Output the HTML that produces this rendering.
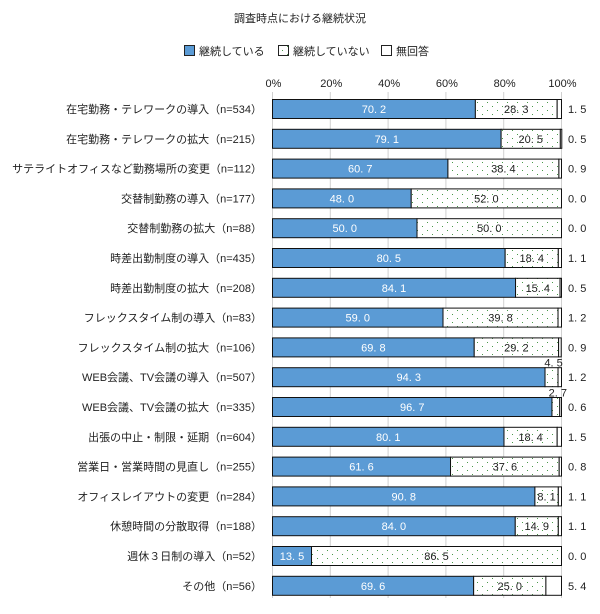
<!DOCTYPE html>
<html><head><meta charset="utf-8"><style>
body{margin:0;background:#fff;}
svg text{font-family:"Liberation Sans","Noto Sans CJK JP",sans-serif;font-size:11px;fill:#222;}
</style></head><body>
<svg id="chart" width="600" height="609" xmlns="http://www.w3.org/2000/svg">
<defs><pattern id="dots" width="10" height="8" patternUnits="userSpaceOnUse"><rect width="10" height="8" fill="#fff"/><rect x="2" y="2" width="1" height="1" fill="#4a9a4a"/><rect x="7" y="6" width="1" height="1" fill="#4a9a4a"/></pattern></defs>
<text x="300" y="22" text-anchor="middle">調査時点における継続状況</text>
<g>
<rect x="184.5" y="45.5" width="10" height="10" fill="#5b9bd5" stroke="#222"/>
<text x="199" y="55">継続している</text>
<rect x="278.5" y="45.5" width="10" height="10" fill="url(#dots)" stroke="#222"/>
<text x="293" y="55">継続していない</text>
<rect x="381.5" y="45.5" width="10" height="10" fill="#fff" stroke="#222"/>
<text x="396" y="55">無回答</text>
</g>
<g id="plot"></g>
</svg>
<script>
const categories=["在宅勤務・テレワークの導入（n=534）","在宅勤務・テレワークの拡大（n=215）","サテライトオフィスなど勤務場所の変更（n=112）","交替制勤務の導入（n=177）","交替制勤務の拡大（n=88）","時差出勤制度の導入（n=435）","時差出勤制度の拡大（n=208）","フレックスタイム制の導入（n=83）","フレックスタイム制の拡大（n=106）","WEB会議、TV会議の導入（n=507）","WEB会議、TV会議の拡大（n=335）","出張の中止・制限・延期（n=604）","営業日・営業時間の見直し（n=255）","オフィスレイアウトの変更（n=284）","休憩時間の分散取得（n=188）","週休３日制の導入（n=52）","その他（n=56）"];
const continuing=[70.2,79.1,60.7,48.0,50.0,80.5,84.1,59.0,69.8,94.3,96.7,80.1,61.6,90.8,84.0,13.5,69.6];
const notContinuing=[28.3,20.5,38.4,52.0,50.0,18.4,15.4,39.8,29.2,4.5,2.7,18.4,37.6,8.1,14.9,86.5,25.0];
const noAnswer=[1.5,0.5,0.9,0.0,0.0,1.1,0.5,1.2,0.9,1.2,0.6,1.5,0.8,1.1,1.1,0.0,5.4];
const ticks=[0,20,40,60,80,100];
const NS="http://www.w3.org/2000/svg";
const g=document.getElementById('plot');
const x=v=>272.5+v*2.89;
const yc=i=>109+i*29.8;
const BH=19;
function mk(t,a){const e=document.createElementNS(NS,t);for(const k in a)e.setAttribute(k,a[k]);g.appendChild(e);return e;}
ticks.forEach(t=>{
 const l=mk('line',{x1:x(t),x2:x(t),y1:92,y2:598,stroke:'#d0d0d0','stroke-width':1});
 
 
 const tx=mk('text',{x:x(t)+1,y:87,'text-anchor':'middle'});tx.textContent=t+'%';
 
 
});
const fmt=v=>v.toFixed(1).replace('.', '. ');
categories.forEach((c,i)=>{
 const yt=yc(i)-BH/2;
 const lb=mk('text',{x:262,y:yc(i)+4,'text-anchor':'end'});lb.textContent=c;
 
 
 const a=continuing[i],b=notContinuing[i],n=noAnswer[i];
 const r1=mk('rect',{x:x(0),y:yt,width:x(a)-x(0),height:BH,fill:'#5b9bd5',stroke:'#111','stroke-width':1});
 
 
 const r2=mk('rect',{x:x(a),y:yt,width:x(a+b)-x(a),height:BH,fill:'url(#dots)',stroke:'#111','stroke-width':1});
 
 
 if(n>0){const r3=mk('rect',{x:x(a+b),y:yt,width:x(a+b+n)-x(a+b),height:BH,fill:'#fff',stroke:'#111','stroke-width':1});
 
 }
 const t1=mk('text',{x:(x(0)+x(a))/2,y:yc(i)+4,'text-anchor':'middle',style:'fill:#fff'});t1.textContent=fmt(a);
 
 
 const small=b<6;
 const t2=mk('text',{x:(x(a)+x(a+b))/2+(small?2:0),y:small?yc(i)-BH/2-1:yc(i)+4,'text-anchor':'middle'});t2.textContent=fmt(b);
 
 
 const t3=mk('text',{x:568,y:yc(i)+4});t3.textContent=fmt(n);
 
 
});
</script>
</body></html>
